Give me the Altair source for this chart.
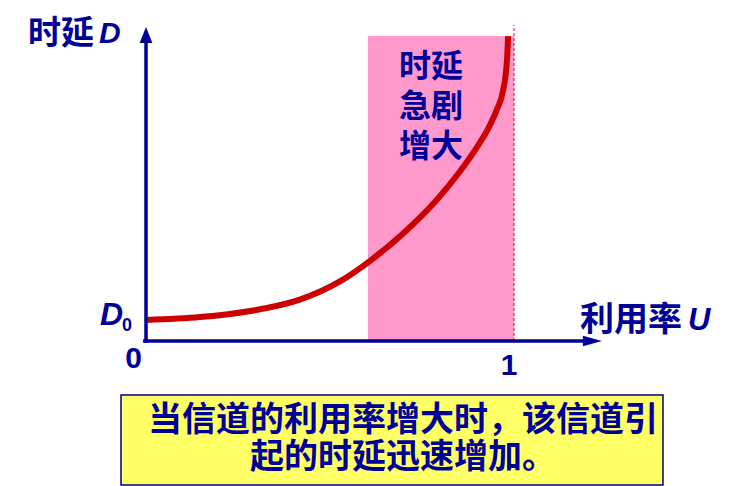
import altair as alt
import pandas as pd

# Curve: utilization U vs delay D (D0 = 1)
U_vals = [0.0, 0.147, 0.283, 0.418, 0.527, 0.609, 0.698, 0.791, 0.853, 0.899, 0.929, 0.954, 0.970, 0.981, 0.984]
D_vals = [1.0, 1.14, 1.43, 1.97, 2.84, 3.82, 5.11, 6.74, 8.07, 9.22, 10.09, 11.04, 11.9, 13.4, 14.52]

# shaded "rapid increase" region
region_u = [0.603, 1.0]
region_d = [0.0, 14.52]

# axis extents
yaxis_top = 14.33
xaxis_right = 1.193
limit_top = 15.05

region_lines = ["时延", "急剧", "增大"]
note_lines = ["当信道的利用率增大时，该信道引", "起的时延迅速增加。"]

NAVY = "#000099"
CJK = "Noto Sans CJK SC"
LAT = "Liberation Sans"

xs = alt.Scale(domain=[-0.375, 1.5842], nice=False, zero=False)
ys = alt.Scale(domain=[-6.905, 15.857], nice=False, zero=False)
X = lambda f: alt.X(f, type="quantitative", scale=xs, axis=None)
Y = lambda f: alt.Y(f, type="quantitative", scale=ys, axis=None)

curve_df = pd.DataFrame({"U": U_vals, "D": D_vals})
region_df = pd.DataFrame({"u1": [region_u[0]], "u2": [region_u[1]], "d1": [region_d[0]], "d2": [region_d[1]]})
axes_df = pd.DataFrame({
    "u1": [0.0, -0.008], "u2": [0.0, xaxis_right],
    "d1": [-0.08, 0.0], "d2": [yaxis_top, 0.0],
})
limit_df = pd.DataFrame({"u": [1.0], "d1": [0.0], "d2": [limit_top]})
yarrow_df = pd.DataFrame({"u": [0.0], "d": [14.57]})
xarrow_df = pd.DataFrame({"u": [1.213], "d": [0.0]})

region = alt.Chart(region_df).mark_rect(color="#FF99CC").encode(
    x=X("u1"), x2="u2", y=Y("d1"), y2="d2")

limit = alt.Chart(limit_df).mark_rule(color="#FF0000", strokeWidth=1, strokeDash=[3, 2]).encode(
    x=X("u"), y=Y("d1"), y2="d2")

curve = alt.Chart(curve_df).mark_line(color="#CC0000", strokeWidth=6, interpolate="monotone").encode(
    x=X("U"), y=Y("D"))

axes = alt.Chart(axes_df).mark_rule(color=NAVY, strokeWidth=3.5).encode(
    x=X("u1"), x2="u2", y=Y("d1"), y2="d2")

yarrow = alt.Chart(yarrow_df).mark_point(
    shape="M0,-1L-0.8,1L0.8,1Z", filled=True, color=NAVY, opacity=1, size=256
).encode(x=X("u"), y=Y("d"))

xarrow = alt.Chart(xarrow_df).mark_point(
    shape="M1,0L-1,-0.55L-1,0.55Z", filled=True, color=NAVY, opacity=1, size=361
).encode(x=X("u"), y=Y("d"))

def label(text, x, y, size, font=CJK, italic=False, align="left"):
    return alt.Chart(pd.DataFrame({"t": [text]})).mark_text(
        font=font, fontSize=size, fontWeight="bold",
        fontStyle="italic" if italic else "normal",
        color=NAVY, align=align, baseline="middle",
    ).encode(text="t:N", x=alt.value(x), y=alt.value(y))

texts = [
    label("时延", 20, 26, 33),
    label("D", 91, 26, 30, font=LAT, italic=True),
    label("D", 92, 307, 32, font=LAT, italic=True),
    label("0", 114, 318, 18, font=LAT),
    label("0", 125.5, 351, 30, font=LAT, align="center"),
    label("1", 501, 358, 30, font=LAT, align="center"),
    label("利用率", 572, 313, 34),
    label("U", 680, 313, 31, font=LAT, italic=True),
]

region_texts = [label(t, 423, yy, 32, align="center") for t, yy in zip(region_lines, [59, 99, 139])]

box = alt.Chart(pd.DataFrame({"a": [0]})).mark_rect(
    fill="#FFFF66", stroke="#000080", strokeWidth=1.5
).encode(x=alt.value(113), x2=alt.value(655), y=alt.value(387), y2=alt.value(477))

note_texts = [label(t, 395, yy, 34, align="center") for t, yy in zip(note_lines, [413, 450])]

chart = alt.layer(
    region, limit, curve, axes, yarrow, xarrow, box, *region_texts, *note_texts, *texts
).properties(
    width=721, height=478, padding=0, autosize=alt.AutoSizeParams(type="none"),
    background="white",
).configure_view(stroke=None)

chart.save("out.html", embed_options={"renderer": "svg", "actions": False})
